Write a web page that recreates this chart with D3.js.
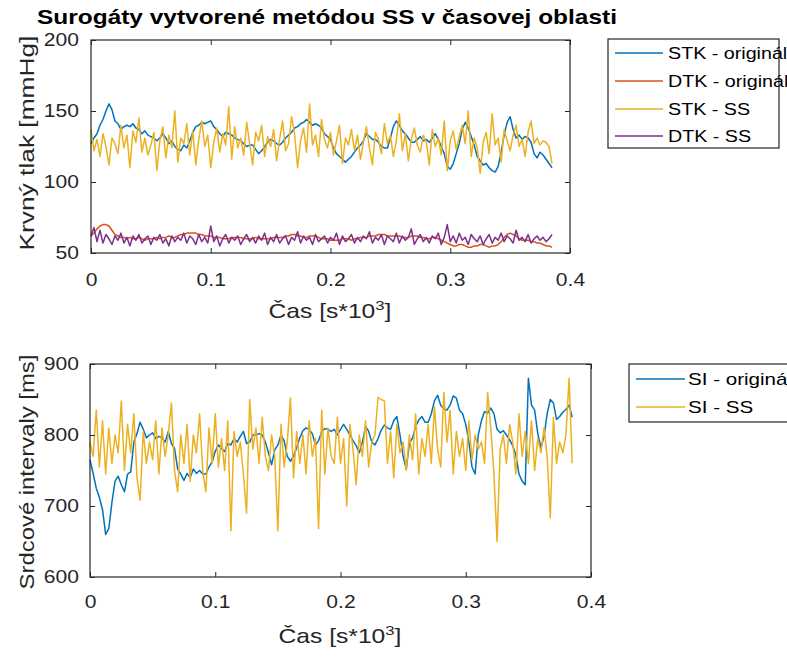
<!DOCTYPE html>
<html><head><meta charset="utf-8">
<script src="https://cdn.jsdelivr.net/npm/d3@7"></script>
<style>body{margin:0;background:#fff}</style>
</head><body><svg id="c" width="787" height="659"></svg>
<script>
// ---------- data ----------
const sampleStep = 0.0025; // s*10^3 between samples
const stkOriginal = [127,131,134,140,144,150,155,151,143,141,137,139,140,139,141,138,137,134,136,133,132,131,129,131,134,131,127,129,125,123,122,126,124,129,135,139,140,142,141,142,143,139,137,134,132,135,134,133,131,130,129,127,125,126,126,123,120,122,125,128,130,129,127,126,128,131,133,135,138,139,141,142,144,142,140,141,140,138,134,132,130,124,120,118,116,114,116,118,121,124,126,129,134,132,130,130,128,125,124,124,131,139,143,140,136,134,131,128,128,130,132,129,130,128,131,134,130,125,120,111,109,113,120,127,137,142,138,132,126,118,115,112,113,110,108,107,111,121,133,142,146,137,131,133,130,132,131,128,120,117,121,119,116,113,110];
const dtkOriginal = [62,64,67,69,70,70,69,66,63,62,61,61,60,61,60,60,61,60,59,60,60,60,61,60,61,61,62,61,61,62,63,63,64,64,64,64,63,63,62,62,62,61,61,61,60,60,60,61,61,61,61,60,60,60,60,61,60,60,60,60,60,61,61,61,61,62,62,63,63,62,62,61,61,62,62,62,61,60,60,60,59,59,59,59,60,60,60,59,60,60,61,61,61,62,62,62,63,63,63,62,62,62,62,62,61,61,61,62,62,62,61,61,60,60,61,61,60,59,58,57,56,55,55,56,56,55,54,54,55,55,56,56,55,54,55,55,56,58,61,63,64,63,62,60,59,59,59,58,58,57,57,56,55,55,54];
const stkSS = [137,122,130,118,134,125,112,131,127,120,140,124,133,110,136,128,145,121,131,119,126,135,108,129,139,117,133,124,150,114,131,127,141,119,136,112,130,143,125,133,110,128,138,121,134,126,153,116,139,124,131,119,142,127,112,135,129,140,118,132,125,137,115,130,143,122,127,146,134,110,129,138,121,155,126,133,118,144,130,124,135,119,129,140,113,131,126,137,122,133,116,128,139,124,112,135,130,120,141,127,133,118,129,148,122,134,115,130,138,126,121,133,128,112,137,125,131,119,143,108,129,136,123,132,140,127,150,118,131,124,106,128,135,120,148,126,131,114,137,129,122,133,140,125,130,118,135,143,127,131,126,129,128,125,113];
const dtkSS = [62,68,58,66,57,63,60,56,62,59,64,57,61,55,62,59,63,57,60,62,56,61,59,63,57,60,55,62,58,61,59,64,57,62,60,56,63,58,61,57,69,58,62,55,60,63,57,61,59,62,56,60,63,58,61,57,62,59,64,56,61,58,63,57,60,62,56,61,59,65,57,62,59,61,56,63,58,60,62,57,61,59,64,56,62,58,60,63,57,61,58,62,60,65,57,61,59,63,56,62,60,58,64,57,62,59,61,67,56,60,63,58,61,57,62,60,64,56,61,70,58,62,57,64,59,61,56,63,60,58,62,56,60,63,57,61,59,64,58,62,60,57,66,59,61,58,63,57,60,62,59,61,58,60,63];
const siOriginal = [765,746,725,712,695,660,668,705,735,742,730,720,745,748,790,802,818,808,796,800,803,795,798,796,790,805,788,781,752,745,736,746,740,752,746,750,745,745,755,762,777,786,781,777,788,786,795,790,798,805,788,790,800,800,802,800,790,775,758,779,786,800,792,770,763,770,782,796,806,810,808,802,786,792,805,809,808,805,808,800,808,815,808,800,792,785,775,790,812,805,790,786,795,807,814,810,808,820,826,800,770,752,788,796,812,821,826,818,818,830,848,856,842,837,835,842,855,852,835,830,815,790,755,745,800,820,833,831,838,830,808,803,806,800,793,785,772,745,735,730,880,842,835,802,782,798,830,850,845,822,826,832,836,842,825];
const siSS = [790,770,835,755,820,745,810,760,800,775,848,750,815,775,830,740,708,805,760,790,765,820,745,810,770,800,845,750,720,800,760,815,735,800,775,830,750,720,810,760,830,755,795,750,820,665,805,770,790,745,690,850,780,810,760,825,770,750,800,770,665,815,755,790,852,740,805,760,800,745,820,770,795,668,835,745,810,770,760,825,760,795,700,815,780,730,800,770,820,755,790,800,853,850,848,760,805,740,815,775,790,750,800,765,830,745,795,770,815,760,840,780,755,860,790,835,745,805,770,795,750,820,765,800,780,790,760,860,810,745,650,780,800,760,815,790,745,830,770,805,760,820,750,795,775,810,770,683,825,760,790,775,800,880,760];

const xTicks = [0, 0.1, 0.2, 0.3, 0.4];
const bpTicks = [50, 100, 150, 200];
const siTicks = [600, 700, 800, 900];
const titleText = "Surogáty vytvorené metódou SS v časovej oblasti";
const xLabel = ["Čas [s*10", "3", "]"];
const bpLabel = "Krvný tlak [mmHg]";
const siLabel = "Srdcové intervaly [ms]";
const bpLegend = ["STK - originál", "DTK - originál", "STK - SS", "DTK - SS"];
const siLegend = ["SI - originál", "SI - SS"];

// ---------- style ----------
const C = {blue:"#0072BD", orange:"#D95319", yellow:"#EDB120", purple:"#7E2F8E", ax:"#262626"};
const FONT = "'Liberation Sans', Arial, Helvetica, sans-serif";
const LW = 1.5;
const svg = d3.select("#c");
svg.append("rect").attr("width",787).attr("height",659).attr("fill","#fff");

// horizontal stretch of glyphs (reference text is drawn wider than tall)
function widen(sel, k) {
  sel.each(function(){
    const L = this.getComputedTextLength();
    if (L > 0) { this.setAttribute("textLength", L*k); this.setAttribute("lengthAdjust","spacingAndGlyphs"); }
  });
}
// scale a group so its text reaches a target length
function fitGroup(g, textNode, target) {
  const L = textNode.node().getBBox().width;
  return target / L;
}

function panel(box, yDomain, yTicks, series, yLab, labelFs, tickFs, xlab, ylab, xPad, yPad) {
  const x = d3.scaleLinear().domain([0, 0.4]).range([box.l, box.r]);
  const y = d3.scaleLinear().domain(yDomain).range([box.b, box.t]);
  const g = svg.append("g");
  series.forEach(s => {
    const line = d3.line().x((d,i)=>x(i*sampleStep)).y(d=>y(d));
    g.append("path").datum(s.data).attr("d", line).attr("fill","none")
      .attr("stroke", s.color).attr("stroke-width", LW).attr("stroke-linejoin","round");
  });
  const tk = 5;
  const axB = g.append("g").attr("transform",`translate(0,${box.b})`)
    .call(d3.axisBottom(x).tickValues(xTicks).tickFormat(d=>d===0?"0":d3.format(".1f")(d)).tickSizeInner(-tk).tickSizeOuter(0).tickPadding(xPad));
  const axT = g.append("g").attr("transform",`translate(0,${box.t})`)
    .call(d3.axisTop(x).tickValues(xTicks).tickFormat("").tickSizeInner(-tk).tickSizeOuter(0));
  const axL = g.append("g").attr("transform",`translate(${box.l},0)`)
    .call(d3.axisLeft(y).tickValues(yTicks).tickFormat(d3.format("d")).tickSizeInner(-tk).tickSizeOuter(0).tickPadding(yPad));
  const axR = g.append("g").attr("transform",`translate(${box.r},0)`)
    .call(d3.axisRight(y).tickValues(yTicks).tickFormat("").tickSizeInner(-tk).tickSizeOuter(0));
  [axB, axT, axL, axR].forEach(a => {
    a.select(".domain").remove();
    a.selectAll("line").attr("stroke", C.ax);
    a.selectAll("text").attr("font-family", FONT).attr("font-size", tickFs).attr("fill", C.ax);
  });
  widen(axB.selectAll("text"), 1.17);
  widen(axL.selectAll("text"), 1.17);
  g.append("rect").attr("x",box.l).attr("y",box.t).attr("width",box.r-box.l).attr("height",box.b-box.t)
    .attr("fill","none").attr("stroke",C.ax).attr("stroke-width",1.2);
  // x label (with superscript), stretched horizontally
  const xg = g.append("g");
  const xt = xg.append("text").attr("x",0).attr("y",0).attr("text-anchor","middle")
    .attr("font-family",FONT).attr("font-size",labelFs).attr("fill",C.ax);
  xt.append("tspan").text(xLabel[0]);
  xt.append("tspan").attr("dy",-labelFs*0.42).attr("font-size",labelFs*0.68).text(xLabel[1]);
  xt.append("tspan").attr("dy",labelFs*0.42).text(xLabel[2]);
  const kx = xlab.w / xt.node().getBBox().width;
  xg.attr("transform",`translate(${xlab.cx},${xlab.y}) scale(${kx},1)`);
  // y label
  const yg = g.append("g");
  const yt = yg.append("text").attr("x",0).attr("y",0).attr("text-anchor","middle")
    .attr("font-family",FONT).attr("font-size",labelFs).attr("fill",C.ax).text(yLab);
  const ky = ylab.len / yt.node().getBBox().width;
  yg.attr("transform",`translate(${ylab.x},${ylab.cy}) rotate(-90) scale(${ky},1)`);
  return {x,y};
}

function legend(bx, entries, colors, fs, k, lineX0, lineX1, textX, rowY) {
  const g = svg.append("g");
  g.append("rect").attr("x",bx.l).attr("y",bx.t).attr("width",bx.r-bx.l).attr("height",bx.b-bx.t)
    .attr("fill","#fff").attr("stroke",C.ax).attr("stroke-width",1.2);
  entries.forEach((e,i) => {
    g.append("line").attr("x1",lineX0).attr("x2",lineX1).attr("y1",rowY[i]).attr("y2",rowY[i])
      .attr("stroke",colors[i]).attr("stroke-width",LW);
    const t = g.append("text").attr("x",textX).attr("y",rowY[i]).attr("dy","0.36em").attr("font-family",FONT)
      .attr("font-size",fs).attr("fill","#000").text(e);
    widen(t, k);
  });
}

// title
const tg = svg.append("g");
const tt = tg.append("text").attr("x",0).attr("y",0).attr("text-anchor","middle").attr("font-family",FONT)
  .attr("font-weight","bold").attr("font-size",20).attr("fill","#000").text(titleText);
tg.attr("transform",`translate(327,24) scale(${580/tt.node().getBBox().width},1)`);

panel({l:91,r:570,t:40,b:253}, [50,200], bpTicks, [
  {data: stkOriginal, color: C.blue},
  {data: dtkOriginal, color: C.orange},
  {data: stkSS, color: C.yellow},
  {data: dtkSS, color: C.purple}
], bpLabel, 20, 18, {cx:330, y:318, w:123}, {x:34, cy:143, len:215}, 20, 12);

panel({l:90,r:591,t:364,b:577}, [600,900], siTicks, [
  {data: siOriginal, color: C.blue},
  {data: siSS, color: C.yellow}
], siLabel, 20, 18, {cx:340, y:643, w:123}, {x:34, cy:472, len:235}, 18, 11);

legend({l:608,r:779,t:39,b:148}, bpLegend, [C.blue,C.orange,C.yellow,C.purple], 16, 1.23, 615, 663, 668, [53,81,109,136]);
legend({l:629,r:800,t:364,b:422}, siLegend, [C.blue,C.yellow], 17, 1.21, 636, 685, 688, [379,407]);
</script></body></html>
